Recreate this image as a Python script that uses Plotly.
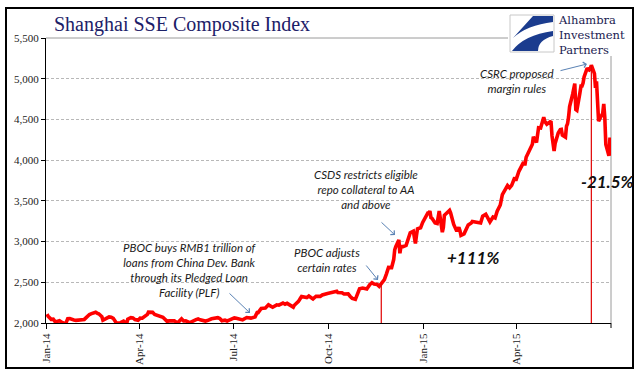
import plotly.graph_objects as go

# ---------------- data ----------------
dates = [
    "2014-01-02","2014-01-03","2014-01-06","2014-01-08","2014-01-10","2014-01-14","2014-01-17","2014-01-20",
    "2014-01-22","2014-01-24","2014-01-28","2014-01-30","2014-02-07","2014-02-10","2014-02-12","2014-02-14",
    "2014-02-18","2014-02-20","2014-02-21","2014-02-24","2014-02-25","2014-02-27","2014-03-03","2014-03-05",
    "2014-03-07","2014-03-10","2014-03-11","2014-03-12","2014-03-14","2014-03-17","2014-03-20","2014-03-21",
    "2014-03-24","2014-03-26","2014-03-28","2014-03-31","2014-04-02","2014-04-04","2014-04-09","2014-04-10",
    "2014-04-14","2014-04-16","2014-04-18","2014-04-22","2014-04-24","2014-04-28","2014-04-30","2014-05-05",
    "2014-05-07","2014-05-09","2014-05-12","2014-05-14","2014-05-16","2014-05-20","2014-05-22","2014-05-26",
    "2014-05-28","2014-05-30","2014-06-04","2014-06-06","2014-06-10","2014-06-12","2014-06-16","2014-06-18",
    "2014-06-20","2014-06-23","2014-06-25","2014-06-27","2014-06-30","2014-07-02","2014-07-04","2014-07-08",
    "2014-07-10","2014-07-14","2014-07-16","2014-07-18","2014-07-22","2014-07-24","2014-07-25","2014-07-28",
    "2014-07-30","2014-08-01","2014-08-04","2014-08-06","2014-08-08","2014-08-12","2014-08-14","2014-08-18",
    "2014-08-20","2014-08-22","2014-08-26","2014-08-28","2014-08-29","2014-09-02","2014-09-04","2014-09-05",
    "2014-09-10","2014-09-12","2014-09-16","2014-09-18","2014-09-19","2014-09-23","2014-09-25","2014-09-30",
    "2014-10-09","2014-10-10","2014-10-14","2014-10-16","2014-10-20","2014-10-22","2014-10-24","2014-10-27",
    "2014-10-29","2014-10-31","2014-11-03","2014-11-05","2014-11-07","2014-11-10","2014-11-12","2014-11-14",
    "2014-11-17","2014-11-19","2014-11-21","2014-11-24","2014-11-26","2014-11-28","2014-12-01","2014-12-03",
    "2014-12-04","2014-12-05","2014-12-08","2014-12-09","2014-12-10","2014-12-12","2014-12-15","2014-12-17",
    "2014-12-18","2014-12-19","2014-12-22","2014-12-23","2014-12-24","2014-12-25","2014-12-26","2014-12-29",
    "2014-12-31","2015-01-05","2015-01-06","2015-01-07","2015-01-08","2015-01-09","2015-01-12","2015-01-14",
    "2015-01-15","2015-01-16","2015-01-19","2015-01-20","2015-01-21","2015-01-23","2015-01-26","2015-01-27",
    "2015-01-29","2015-01-30","2015-02-02","2015-02-04","2015-02-05","2015-02-06","2015-02-09","2015-02-11",
    "2015-02-13","2015-02-16","2015-02-17","2015-02-25","2015-02-27","2015-03-02","2015-03-04","2015-03-06",
    "2015-03-09","2015-03-11","2015-03-13","2015-03-16","2015-03-18","2015-03-20","2015-03-23","2015-03-25",
    "2015-03-27","2015-03-30","2015-03-31","2015-04-02","2015-04-03","2015-04-07","2015-04-09","2015-04-10",
    "2015-04-14","2015-04-16","2015-04-17","2015-04-20","2015-04-22","2015-04-24","2015-04-27","2015-04-28",
    "2015-04-30","2015-05-04","2015-05-05","2015-05-06","2015-05-07","2015-05-08","2015-05-11","2015-05-13",
    "2015-05-14","2015-05-15","2015-05-18","2015-05-19","2015-05-20","2015-05-21","2015-05-22","2015-05-25",
    "2015-05-26","2015-05-27","2015-05-28","2015-05-29","2015-06-01","2015-06-02","2015-06-03","2015-06-04",
    "2015-06-05","2015-06-08","2015-06-09","2015-06-10","2015-06-11","2015-06-12","2015-06-15","2015-06-16",
    "2015-06-17","2015-06-18","2015-06-19","2015-06-23","2015-06-24","2015-06-25","2015-06-26","2015-06-29",
    "2015-06-30","2015-07-01",
]
values = [
    2109,2083,2045,2047,2013,2027,2004,1991,
    2052,2054,2038,2033,2044,2086,2105,2115,
    2132,2116,2113,2076,2034,2047,2075,2071,
    2057,1999,2001,1997,2004,2024,1993,2047,
    2066,2063,2042,2033,2059,2058,2105,2134,
    2131,2105,2098,2080,2071,2020,2026,2027,
    2010,2011,2052,2025,2026,2005,2021,2042,
    2050,2039,2024,2029,2052,2055,2066,2055,
    2026,2034,2025,2036,2048,2063,2059,2051,
    2038,2067,2068,2060,2075,2127,2127,2178,
    2182,2185,2223,2204,2194,2223,2219,2245,
    2230,2241,2207,2195,2218,2266,2306,2326,
    2312,2331,2296,2316,2329,2327,2345,2363,
    2389,2374,2372,2356,2357,2326,2302,2290,
    2373,2420,2430,2419,2418,2473,2494,2478,
    2474,2450,2487,2532,2604,2683,2680,2779,
    2899,2938,3020,2856,2940,2938,2953,3022,
    3058,3108,3128,3032,2977,3073,3157,3169,
    3235,3351,3352,3374,3294,3285,3229,3222,
    3336,3376,3116,3173,3323,3351,3383,3352,
    3262,3210,3128,3174,3136,3076,3095,3157,
    3203,3228,3247,3229,3311,3336,3280,3241,
    3302,3290,3373,3449,3577,3617,3688,3661,
    3691,3787,3748,3825,3863,3961,3957,4035,
    4135,4194,4287,4217,4398,4394,4527,4476,
    4441,4480,4298,4229,4112,4205,4333,4375,
    4378,4308,4283,4417,4446,4529,4658,4813,
    4910,4941,4620,4611,4829,4910,4910,4947,
    5023,5131,5113,5106,5121,5166,5062,4887,
    4967,4786,4478,4576,4691,4527,4192,4053,
    4277,4053,
]

event_dates = ["2014-11-21", "2015-06-12"]
tick_dates = ["2014-01-01", "2014-04-01", "2014-07-01", "2014-10-01", "2015-01-01", "2015-04-01"]
tick_labels = ["Jan-14", "Apr-14", "Jul-14", "Oct-14", "Jan-15", "Apr-15"]

title_text = "Shanghai SSE Composite Index"
notes = [
    "PBOC buys RMB1 trillion of<br>loans from China Dev. Bank<br>through its Pledged Loan<br>Facility (PLF)",
    "PBOC adjusts<br>certain rates",
    "CSDS restricts eligible<br>repo collateral to AA<br>and above",
    "CSRC proposed<br>margin rules",
]
gain_label = "+111%"
loss_label = "-21.5%"
logo_lines = ["Alhambra", "Investment", "Partners"]

# ---------------- layout helpers (pixel -> paper) ----------------
W, H = 641, 379
PL, PR, PT, PB = 46, 611, 38, 323


def px(x):
    return (x - PL) / (PR - PL)


def py(y):
    return (PB - y) / (PB - PT)


def path(points, closing=True):
    s = ""
    for cmd, pts in points:
        s += cmd + " ".join(f"{px(a):.5f},{py(b):.5f}" for a, b in pts) + " "
    return s + ("Z" if closing else "")


fig = go.Figure()

fig.add_trace(go.Scatter(x=dates, y=values, mode="lines",
                         line=dict(color="#ff0000", width=3.6), hoverinfo="skip",
                         showlegend=False))

lookup = dict(zip(dates, values))
for d in event_dates:
    fig.add_trace(go.Scatter(x=[d, d], y=[2000, lookup[d]], mode="lines",
                             line=dict(color="#e00000", width=1.2), hoverinfo="skip",
                             showlegend=False))

shapes = []
# gray plot border top + right
shapes.append(dict(type="line", xref="paper", yref="paper", x0=0, x1=1, y0=1, y1=1,
                   line=dict(color="#9a9a9a", width=1), layer="below"))
shapes.append(dict(type="line", xref="paper", yref="paper", x0=1, x1=1, y0=0, y1=1,
                   line=dict(color="#9a9a9a", width=1), layer="below"))
# end tick on x axis
shapes.append(dict(type="line", xref="paper", yref="paper", x0=1, x1=1, y0=0, y1=py(PB + 5),
                   line=dict(color="black", width=1)))
# outer frame
shapes.append(dict(type="rect", xref="paper", yref="paper", x0=px(6), x1=px(633), y0=py(368), y1=py(8),
                   line=dict(color="black", width=2)))
# logo background
shapes.append(dict(type="rect", xref="paper", yref="paper", x0=px(508), x1=px(631), y0=py(56), y1=py(11),
                   fillcolor="white", line=dict(width=0), layer="above"))
shapes.append(dict(type="rect", xref="paper", yref="paper", x0=px(510), x1=px(554), y0=py(52), y1=py(15),
                   fillcolor="white", line=dict(color="#c8c8c8", width=1), layer="above"))
blue = "#1b3c8e"
shapes.append(dict(type="path", xref="paper", yref="paper", layer="above",
                   path=path([("M", [(533, 16)]), ("L", [(553, 16)]), ("L", [(553, 22)]),
                              ("Q", [(527, 25), (513, 38)])]),
                   fillcolor=blue, line=dict(width=0)))
shapes.append(dict(type="path", xref="paper", yref="paper", layer="above",
                   path=path([("M", [(512, 51)]), ("Q", [(524, 35), (553, 31)]), ("L", [(553, 36)]),
                              ("Q", [(538, 40), (538, 51)])]),
                   fillcolor=blue, line=dict(width=0)))

annos = []
# title
annos.append(dict(text=title_text, xref="paper", yref="paper", x=px(52), y=py(24),
                  xanchor="left", yanchor="middle", showarrow=False,
                  font=dict(family="Liberation Serif", size=20, color="#1c2068")))
# logo text (one block)
annos.append(dict(text="<br>".join(logo_lines), xref="paper", yref="paper", x=px(557), y=py(35),
                  xanchor="left", yanchor="middle", showarrow=False, align="left", borderpad=0,
                  font=dict(family="DejaVu Serif", size=11.5, color="#1a1a50")))

note_pos = [(190, 269.5), (327, 260), (366, 189.5), (516.5, 80.5)]
note_font = dict(family="Lato", size=11.5, color="#1a1a1a")
for t, (cx, cy) in zip(notes, note_pos):
    annos.append(dict(text=f"<i>{t}</i>", xref="paper", yref="paper", x=px(cx), y=py(cy),
                      xanchor="center", yanchor="middle", showarrow=False, align="center",
                      font=note_font))

arrow_col = "#5a82b4"
arrows = [((250, 313), (228, 292)), ((378, 280), (365, 264)), ((395, 235), (380, 221)), ((587, 64), (559, 71))]
for (tx, ty), (sx, sy) in arrows:
    annos.append(dict(text="", xref="paper", yref="paper", x=px(tx), y=py(ty),
                      ax=sx - tx, ay=sy - ty, showarrow=True, arrowhead=4, arrowsize=1.1,
                      arrowwidth=1, arrowcolor=arrow_col, standoff=0))

annos.append(dict(text=f"<b><i>{gain_label}</i></b>", xref="paper", yref="paper", x=px(473), y=py(257),
                  xanchor="center", yanchor="middle", showarrow=False,
                  font=dict(family="Lato", size=17, color="#111111")))
annos.append(dict(text=f"<b><i>{loss_label}</i></b>", xref="paper", yref="paper", x=px(607), y=py(181),
                  xanchor="center", yanchor="middle", showarrow=False,
                  font=dict(family="Lato", size=17, color="#111111")))

tick_font = dict(family="Liberation Serif", size=11, color="#222222")
fig.update_layout(
    width=W, height=H, autosize=False,
    margin=dict(l=PL, r=W - PR, t=PT, b=H - PB, pad=0),
    paper_bgcolor="white", plot_bgcolor="white",
    showlegend=False,
    shapes=shapes, annotations=annos,
    xaxis=dict(type="date", range=["2014-01-01", "2015-07-01"], tickvals=tick_dates, ticktext=tick_labels,
               tickangle=-90, ticks="outside", ticklen=5, tickcolor="black", showline=True,
               linecolor="black", linewidth=1, showgrid=False, zeroline=False, tickfont=tick_font),
    yaxis=dict(range=[2000, 5500], dtick=500, tick0=2000, tickformat=",", ticks="outside", ticklen=4,
               tickcolor="black", showline=True, linecolor="black", linewidth=1, showgrid=True,
               gridcolor="#b8b8b8", griddash="3px,2px", gridwidth=1, zeroline=False, tickfont=tick_font),
)

fig.write_html("out.html", config={"displayModeBar": False},
               post_script="document.body.style.margin='0';document.body.style.overflow='hidden';")
